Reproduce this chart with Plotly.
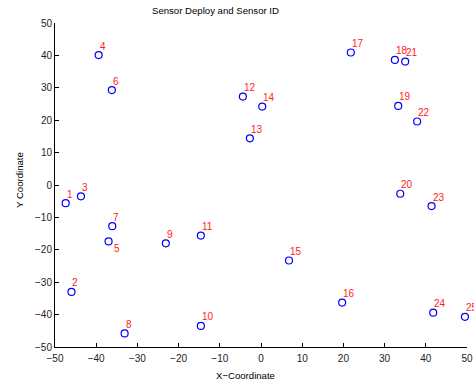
import plotly.graph_objects as go

sensor_ids = list(range(1, 26))
x_vals = [-47.4, -46.0, -43.7, -39.4, -37.0, -36.2, -36.1, -33.1, -23.1, -14.6,
          -14.6, -4.4, -2.7, 0.3, 6.8, 19.7, 21.8, 32.5, 33.3, 33.8,
          35.0, 37.9, 41.4, 41.8, 49.5]
y_vals = [-5.6, -33.0, -3.5, 40.1, -17.4, 29.3, -12.7, -45.8, -18.0, -43.5,
          -15.6, 27.3, 14.4, 24.2, -23.3, -36.3, 40.9, 38.6, 24.4, -2.7,
          38.1, 19.6, -6.5, -39.4, -40.7]
tick_vals = [-50, -40, -30, -20, -10, 0, 10, 20, 30, 40, 50]
tick_text = [str(v).replace("-", "\u2212") for v in tick_vals]
below_labels = {5}

font_family = "Liberation Sans, Arial, Helvetica, sans-serif"
W, H = 474, 387
ML, MR, MT, MB = 55, 7, 23, 40
PW, PH = W - ML - MR, H - MT - MB

fig = go.Figure()
fig.add_trace(go.Scatter(
    x=x_vals, y=y_vals, mode="markers",
    marker=dict(symbol="circle-open", size=7, color="#0000ff", line=dict(width=1.2)),
    cliponaxis=False, showlegend=False, hoverinfo="skip"))

annotations = []
for sid, xv, yv in zip(sensor_ids, x_vals, y_vals):
    if sid in below_labels:
        xs, ys = 3, -7
    else:
        xs, ys = -1, 9
    annotations.append(dict(
        x=xv, y=yv, xref="x", yref="y", text=str(sid), showarrow=False,
        xanchor="left", yanchor="middle", xshift=xs, yshift=ys,
        font=dict(color="#ff2020", size=10, family=font_family)))

label_font = dict(size=9.6, color="#000000", family=font_family)
annotations += [
    dict(x=(215 - ML) / PW, y=1 + (MT - 10) / PH, xanchor="center", yanchor="middle",
         xref="paper", yref="paper", text="Sensor Deploy and Sensor ID",
         showarrow=False, font=label_font),
    dict(x=(245 - ML) / PW, y=-(375 - (H - MB)) / PH, xanchor="center", yanchor="middle",
         xref="paper", yref="paper", text="X\u2212Coordinate",
         showarrow=False, font=label_font),
    dict(x=-(ML - 19) / PW, y=((H - MB) - 180) / PH, xanchor="center", yanchor="middle",
         xref="paper", yref="paper", text="Y Coordinate", textangle=-90,
         showarrow=False, font=label_font),
]

axis_common = dict(range=[-50, 50], tickvals=tick_vals, ticktext=tick_text,
                   showgrid=False, zeroline=False, showline=True, linecolor="#000000",
                   linewidth=1, ticks="inside", ticklen=4, tickcolor="#000000",
                   tickfont=dict(size=10, color="#222222"), fixedrange=True,
                   automargin=False)

fig.update_layout(
    width=W, height=H,
    margin=dict(l=ML, r=MR, t=MT, b=MB, autoexpand=False),
    paper_bgcolor="white", plot_bgcolor="white",
    font=dict(family=font_family, size=10, color="#000000"),
    annotations=annotations,
    xaxis=dict(axis_common, ticklabelstandoff=2),
    yaxis=axis_common,
)

fig.write_html("out.html", config={"displayModeBar": False},
               post_script="document.body.style.margin='0';document.body.style.overflow='hidden';")
